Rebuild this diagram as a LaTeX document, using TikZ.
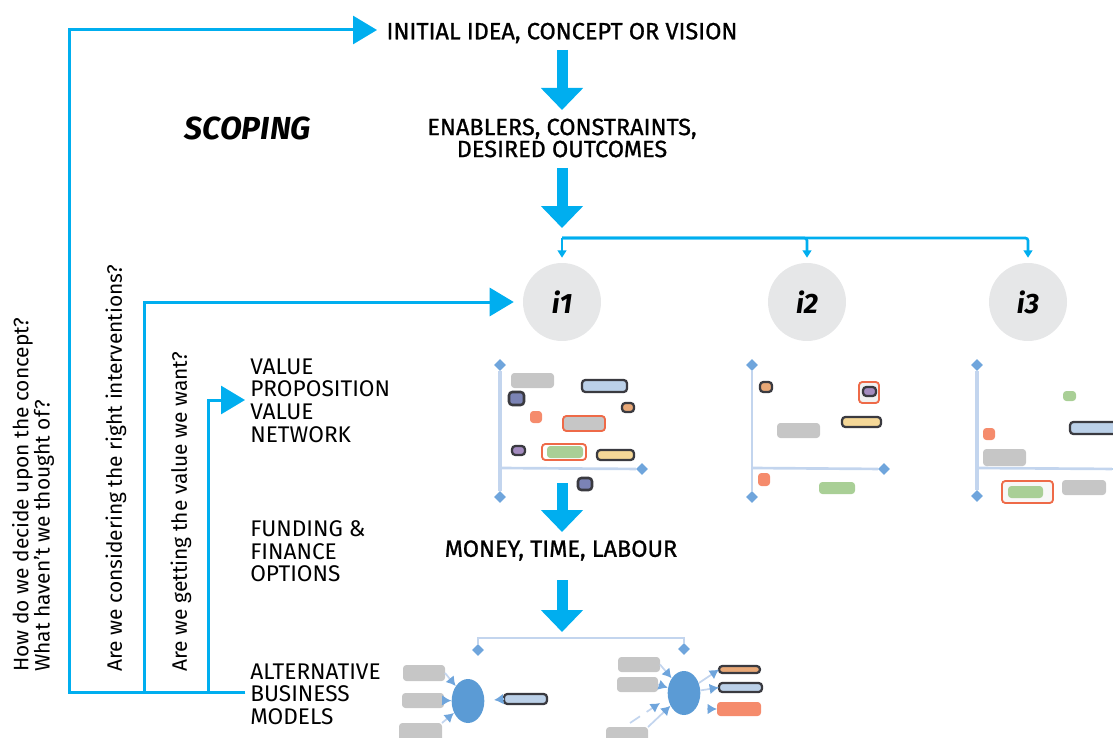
\documentclass[tikz,border=0pt]{standalone}
\usepackage{fontspec}
\setmainfont{Fira Sans}
\newfontfamily\hdfont[FakeBold=1.0]{Fira Sans}
\usetikzlibrary{arrows.meta,shapes.geometric,calc}
\definecolor{cyanb}{HTML}{00AEEF}
\definecolor{circ}{HTML}{E6E7E8}
\definecolor{axisp}{HTML}{C3D5EE}
\definecolor{tipb}{HTML}{6FA5DC}
\definecolor{ellb}{HTML}{5B9BD5}
\definecolor{grayf}{HTML}{C6C6C6}
\definecolor{dark}{HTML}{3A3A40}
\definecolor{bluef}{HTML}{BBD0E8}
\definecolor{navyf}{HTML}{7B83B5}
\definecolor{orangef}{HTML}{E8A877}
\definecolor{salmon}{HTML}{F58B6C}
\definecolor{redb}{HTML}{EE6A48}
\definecolor{purplef}{HTML}{A38BBF}
\definecolor{greenf}{HTML}{A9CF96}
\definecolor{yellowf}{HTML}{F5D898}
\newcommand\blk[6]{\pgfmathsetmacro\blkw{(#5-#3)*0.75}\pgfmathsetmacro\blkh{(#6-#4)*0.75}\node[#1,minimum width=\blkw pt,minimum height=\blkh pt] (#2) at ({(#3+#5)/2},{(#4+#6)/2}) {};}
\tikzset{
 x=0.75pt,y=-0.75pt,
 head/.style={font=\fontsize{17.6}{16.5}\hdfont\selectfont,align=center,inner sep=0pt},
 side/.style={font=\fontsize{17}{17}\selectfont,align=left,inner sep=0pt,anchor=west},
 vert/.style={font=\fontsize{15.7}{16}\selectfont,rotate=90,anchor=west,inner sep=0pt,align=left},
 circn/.style={circle,fill=circ,minimum size=58.5pt,inner sep=0pt,font=\fontsize{21}{23}\selectfont\bfseries\itshape},
 bigarr/.style={draw=cyanb,line width=8.25pt,-{Triangle[length=16.5pt,width=30.75pt]}},
 loopl/.style={draw=cyanb,line width=2.25pt,-{Triangle[length=18pt,width=21pt]}},
 thinb/.style={draw=cyanb,line width=2pt,rounded corners=2pt,-{Triangle[length=5.5pt,width=6.5pt]}},
 axisv/.style={draw=axisp,line width=2.4pt},
 axish/.style={draw=axisp,line width=2pt},
 endd/.style={diamond,fill=tipb,inner sep=0pt,minimum size=9pt},
 blkb/.style={rounded corners=2.5pt,inner sep=0pt,outer sep=0pt},
 grayb/.style={blkb,fill=grayf},
 bluebx/.style={blkb,fill=bluef,draw=dark,line width=1.7pt},
 navyb/.style={blkb,fill=navyf,draw=dark,line width=1.9pt},
 orangeb/.style={blkb,fill=orangef,draw=dark,line width=1.7pt},
 salmonb/.style={blkb,fill=salmon},
 redgray/.style={blkb,fill=grayf,draw=redb,line width=1.4pt},
 purpleb/.style={blkb,fill=purplef,draw=dark,line width=1.7pt},
 redout/.style={blkb,fill=white,draw=redb,line width=1.4pt},
 greenb/.style={blkb,fill=greenf},
 yellowb/.style={blkb,fill=yellowf,draw=dark,line width=1.7pt},
 ellp/.style={ellipse,fill=ellb,inner sep=0pt,minimum width=24.5pt,minimum height=33pt},
 pale/.style={draw=axisp,line width=1.3pt,-{Latex[length=7pt,width=8pt,color=tipb,fill=tipb]}},
 paled/.style={pale,dash pattern=on 9pt off 6pt},
}
\begin{document}
\begin{tikzpicture}
\useasboundingbox (0,0) rectangle (1113,738);
\clip (0,0) rectangle (1113,738);
% texts
\node[head] (idea) at (562,33) {INITIAL IDEA, CONCEPT OR VISION};
\node[font=\fontsize{23.9}{26}\selectfont\bfseries\itshape,inner sep=0pt] (scop) at (248,128) {SCOPING};
\node[head] (enab) at (562,138) {ENABLERS, CONSTRAINTS,\\DESIRED OUTCOMES};
\node[head] (money) at (561,550.5) {MONEY, TIME, LABOUR};
\node[side] (vp) at (250,400.5) {VALUE\\PROPOSITION\\VALUE\\NETWORK};
\node[side] (fund) at (250,551.5) {FUNDING \&\\FINANCE\\OPTIONS};
\node[side] (mods) at (250,694) {ALTERNATIVE\\BUSINESS\\MODELS};
\node[vert] (q1) at (33,672) {How do we decide upon the concept?\\What haven't we thought of?};
\node[vert] (q2) at (116,672) {Are we considering the right interventions?};
\node[vert] (q3) at (181,672) {Are we getting the value we want?};
% circles
\node[circn] (i1) at (562,302) {i1};
\node[circn] (i2) at (807,302) {i2};
\node[circn] (i3) at (1028,302) {i3};
% big arrows
\coordinate (a1) at (562,50);
\coordinate (a2) at (562,110);
\coordinate (a3) at (562,168);
\coordinate (sp1) at (562,228);
\coordinate (br) at (562,238);
\coordinate (ch) at (562,483);
\coordinate (a4) at (562,532);
\coordinate (a5) at (562,580);
\coordinate (sp2) at (562,632);
\draw[bigarr] (a1) -- (a2);
\draw[bigarr] (a3) -- (sp1);
\draw[bigarr] (ch) -- (a4);
\draw[bigarr] (a5) -- (sp2);
% branch
\draw[thinb,shorten >=3.75pt] (br) -- (i1);
\draw[thinb,shorten >=3.75pt] (br) -| (i2);
\draw[thinb,shorten >=3.75pt] (br) -| (i3);
% loops
\coordinate (x69) at (69,0);
\coordinate (x144) at (144,0);
\coordinate (x208) at (208,0);
\coordinate (la) at (377,30);
\coordinate (lc) at (245,400);
\coordinate (lm) at (245,692);
\draw[loopl] (lm) -| (x69 |- la) -- (la);
\draw[loopl,shorten >=6.75pt] (lm) -| (x144 |- i1) -- (i1);
\draw[loopl] (lm) -| (x208 |- lc) -- (lc);
% chart 1
\node[endd] (a1t) at (500,365) {};
\node[endd] (a1b) at (500,497) {};
\node[endd] (a1r) at (642,469) {};
\coordinate (a1o) at (500,468);
\draw[axisv] (a1t) -- (a1b);
\draw[axish] (a1o) -- (a1r);
\blk{grayb}{c1a}{511}{373}{554}{388}
\blk{bluebx}{c1b}{582}{380}{627}{392}
\blk{navyb}{c1c}{509}{392}{524}{405}
\blk{orangeb}{c1d}{622}{403}{634}{412}
\blk{salmonb}{c1e}{530}{411}{542}{423}
\blk{redgray}{c1f}{563}{416}{605}{431}
\blk{purpleb}{c1g}{512}{446}{525}{455}
\blk{redout}{c1h}{542}{444}{586}{460}
\blk{greenb}{c1i}{547}{446}{583}{458}
\blk{yellowb}{c1j}{597}{450}{634}{460}
\blk{navyb}{c1k}{578}{478}{592}{490}
% chart 2
\node[endd] (a2t) at (752,365) {};
\node[endd] (a2b) at (752,497) {};
\node[endd] (a2r) at (884,469) {};
\coordinate (a2o) at (752,468);
\draw[axisv,line width=1.6pt] (a2t) -- (a2b);
\draw[axish] (a2o) -- (a2r);
\blk{orangeb}{c2a}{760}{382}{772}{392}
\blk{redout,fill=circ!60}{c2b}{859}{382}{879}{403}
\blk{purpleb}{c2c}{863}{387}{876}{396}
\blk{grayb}{c2d}{777}{423}{820}{438}
\blk{yellowb}{c2e}{842}{417}{881}{427}
\blk{salmonb}{c2f}{758}{473}{770}{486}
\blk{greenb}{c2g}{819}{482}{855}{494}
% chart 3
\node[endd] (a3t) at (977,365) {};
\node[endd] (a3b) at (977,496) {};
\node[endd] (a3r) at (1118,469) {};
\coordinate (a3o) at (977,468);
\draw[axisv] (a3t) -- (a3b);
\draw[axish] (a3o) -- (a3r);
\blk{greenb}{c3a}{1063}{391}{1076}{401}
\blk{bluebx}{c3b}{1070}{422}{1125}{434}
\blk{salmonb}{c3c}{983}{428}{995}{440}
\blk{grayb}{c3d}{983}{449}{1026}{466}
\blk{redout,fill=black!3}{c3e}{1002}{481}{1053}{503}
\blk{greenb}{c3f}{1008}{486}{1043}{498}
\blk{grayb}{c3g}{1062}{480}{1106}{495}
% model split
\node[endd] (m1) at (478,650) {};
\node[endd] (m2) at (684,649) {};
\coordinate (mb) at (480,638);
\draw[axish] (m1) |- (mb) -| (m2);
% model 1
\node[ellp] (e1) at (468,701) {};
\blk{grayb}{g1}{403}{665}{445}{681}
\blk{grayb}{g2}{402}{693}{444}{708}
\blk{grayb}{g3}{399}{723}{442}{745}
\blk{bluebx}{b1}{504}{694}{547}{704}
\draw[pale] (g1.east) -- (e1);
\draw[pale] (g2.east) -- (e1);
\draw[pale] (g3.north east) -- (e1);
\coordinate (t1) at (494,700);
\draw[pale] (b1.west) -- (t1);
% model 2
\node[ellp] (e2) at (684,693) {};
\blk{grayb}{g4}{618}{657}{660}{672}
\blk{grayb}{g5}{617}{677}{658}{692}
\blk{grayb}{g6}{606}{727}{648}{745}
\blk{orangeb}{b2}{719}{666}{760}{673}
\blk{bluebx}{b3}{719}{683}{762}{692}
\blk{salmonb}{b4}{717}{702}{761}{716}
\coordinate (t2) at (630,723);
\coordinate (t3) at (660,703);
\coordinate (t4) at (707,709);
\draw[pale] (g4.east) -- (e2);
\draw[pale] (g5.east) -- (e2);
\draw[paled] (t2) -- (t3);
\draw[pale] (g6.north east) -- (e2);
\draw[pale] (e2) -- (b2.west);
\draw[pale] (e2) -- (b3.west);
\draw[pale] (t4) -- (b4.west);
\end{tikzpicture}
\end{document}
